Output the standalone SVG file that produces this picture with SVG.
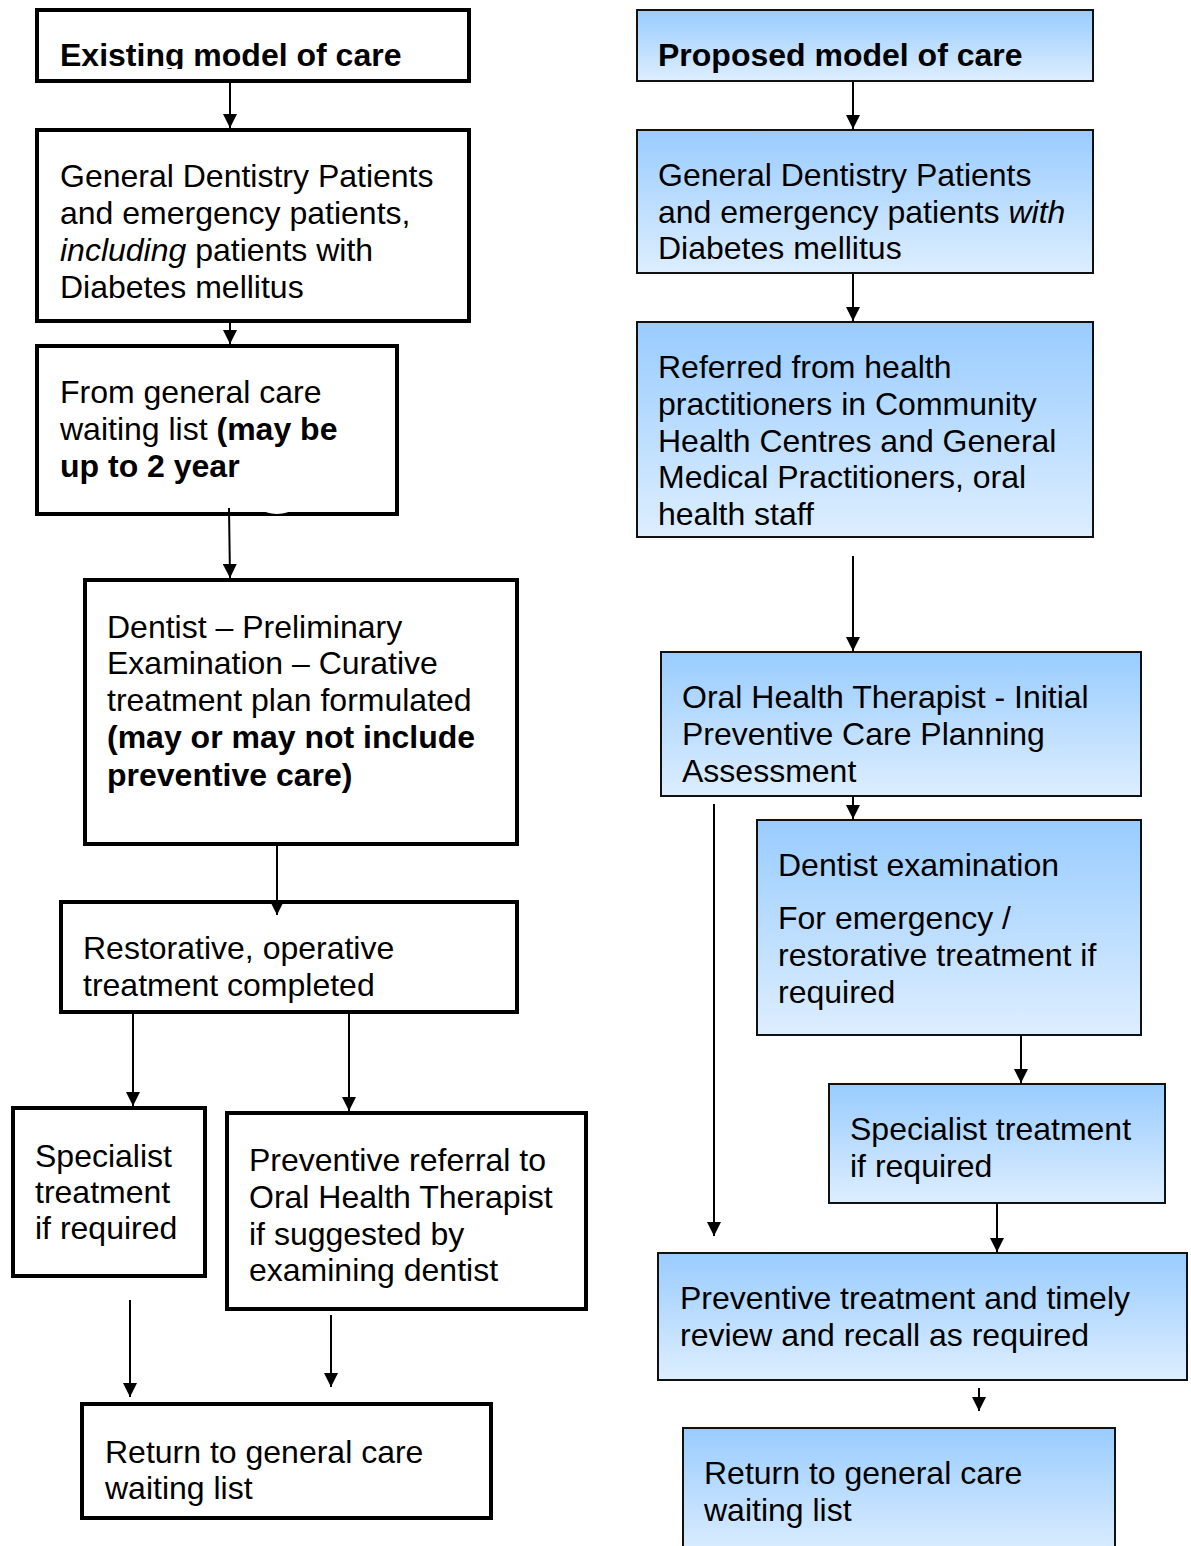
<svg xmlns="http://www.w3.org/2000/svg" width="1191" height="1546" viewBox="0 0 1191 1546">
<style>
text{font-family:"Liberation Sans",Arial,sans-serif;font-size:32px;fill:#000}
.b{font-weight:bold}
.i{font-style:italic}
.ex{fill:#fff;stroke:#000;stroke-width:4}
.pr{fill:url(#blue);stroke:#111;stroke-width:2}
.c{stroke:#000;stroke-width:2;fill:none;marker-end:url(#ah)}
</style>
<defs>
<linearGradient id="blue" x1="0" y1="0" x2="0" y2="1">
<stop offset="0" stop-color="#99CCFF"/>
<stop offset="1" stop-color="#DDEEFF"/>
</linearGradient>
<marker id="ah" markerUnits="userSpaceOnUse" markerWidth="14" markerHeight="14" refX="14" refY="7" orient="auto" viewBox="0 0 14 14">
<path d="M0,0 L14,7 L0,14 z" fill="#000"/>
</marker>
<clipPath id="clipA"><rect x="37" y="10" width="432" height="59"/></clipPath>
</defs>

<g id="existing-title">
<rect class="ex" x="37" y="10" width="432" height="71"/>
<text class="b" x="60" y="66" clip-path="url(#clipA)">Existing model of care</text>
</g>
<g id="existing-patients">
<rect class="ex" x="37" y="130" width="432" height="191"/>
<text x="60" y="187">General Dentistry Patients</text>
<text x="60" y="224">and emergency patients,</text>
<text x="60" y="261"><tspan class="i">including</tspan> patients with</text>
<text x="60" y="298">Diabetes mellitus</text>
</g>
<g id="existing-waiting">
<rect class="ex" x="37" y="346" width="360" height="168"/>
<ellipse cx="277" cy="509" rx="14" ry="5" fill="#fff"/>
<text x="60" y="403">From general care</text>
<text x="60" y="440">waiting list <tspan class="b">(may be</tspan></text>
<text class="b" x="60" y="477">up to 2 year</text>
</g>
<g id="existing-dentist">
<rect class="ex" x="85" y="580" width="432" height="264"/>
<text x="107" y="638">Dentist – Preliminary</text>
<text x="107" y="674">Examination – Curative</text>
<text x="107" y="711">treatment plan formulated</text>
<text class="b" x="107" y="748">(may or may not include</text>
<text class="b" x="107" y="786">preventive care)</text>
</g>
<g id="existing-restorative">
<rect class="ex" x="61" y="902" width="456" height="110"/>
<text x="83" y="959">Restorative, operative</text>
<text x="83" y="996">treatment completed</text>
</g>
<g id="existing-specialist">
<rect class="ex" x="13" y="1108" width="192" height="168"/>
<text x="35" y="1167">Specialist</text>
<text x="35" y="1203">treatment</text>
<text x="35" y="1239">if required</text>
</g>
<g id="existing-preventive">
<rect class="ex" x="227" y="1113" width="359" height="196"/>
<text x="249" y="1171">Preventive referral to</text>
<text x="249" y="1208">Oral Health Therapist</text>
<text x="249" y="1245">if suggested by</text>
<text x="249" y="1281">examining dentist</text>
</g>
<g id="existing-return">
<rect class="ex" x="82" y="1404" width="409" height="114"/>
<text x="105" y="1463">Return to general care</text>
<text x="105" y="1499">waiting list</text>
</g>

<g id="proposed-title">
<rect class="pr" x="637" y="10" width="456" height="71"/>
<text class="b" x="658" y="66">Proposed model of care</text>
</g>
<g id="proposed-patients">
<rect class="pr" x="637" y="130" width="456" height="143"/>
<text x="658" y="186">General Dentistry Patients</text>
<text x="658" y="223">and emergency patients <tspan class="i">with</tspan></text>
<text x="658" y="259">Diabetes mellitus</text>
</g>
<g id="proposed-referred">
<rect class="pr" x="637" y="322" width="456" height="215"/>
<text x="658" y="378">Referred from health</text>
<text x="658" y="415">practitioners in Community</text>
<text x="658" y="452">Health Centres and General</text>
<text x="658" y="488">Medical Practitioners, oral</text>
<text x="658" y="525">health staff</text>
</g>
<g id="proposed-oht">
<rect class="pr" x="661" y="652" width="480" height="144"/>
<text x="682" y="708">Oral Health Therapist - Initial</text>
<text x="682" y="745">Preventive Care Planning</text>
<text x="682" y="782">Assessment</text>
</g>
<g id="proposed-dentist">
<rect class="pr" x="757" y="820" width="384" height="215"/>
<text x="778" y="876">Dentist examination</text>
<text x="778" y="929">For emergency /</text>
<text x="778" y="966">restorative treatment if</text>
<text x="778" y="1003">required</text>
</g>
<g id="proposed-specialist">
<rect class="pr" x="829" y="1084" width="336" height="119"/>
<text x="850" y="1140">Specialist treatment</text>
<text x="850" y="1177">if required</text>
</g>
<g id="proposed-preventive">
<rect class="pr" x="658" y="1253" width="529" height="127"/>
<text x="680" y="1309">Preventive treatment and timely</text>
<text x="680" y="1346">review and recall as required</text>
</g>
<g id="proposed-return">
<rect class="pr" x="683" y="1428" width="432" height="130"/>
<text x="704" y="1484">Return to general care</text>
<text x="704" y="1521">waiting list</text>
</g>

<g id="connectors">
<line class="c" x1="230" y1="83" x2="230" y2="128"/>
<line class="c" x1="230" y1="323" x2="230" y2="344"/>
<line class="c" x1="229" y1="508" x2="230" y2="578"/>
<line class="c" x1="277" y1="846" x2="277" y2="915"/>
<line class="c" x1="133" y1="1014" x2="133" y2="1106"/>
<line class="c" x1="349" y1="1014" x2="349" y2="1111"/>
<line class="c" x1="130" y1="1300" x2="130" y2="1397"/>
<line class="c" x1="331" y1="1315" x2="331" y2="1387"/>
<line class="c" x1="853" y1="82" x2="853" y2="129"/>
<line class="c" x1="853" y1="274" x2="853" y2="321"/>
<line class="c" x1="853" y1="556" x2="853" y2="651"/>
<line class="c" x1="853" y1="797" x2="853" y2="819"/>
<line class="c" x1="714" y1="804" x2="714" y2="1236"/>
<line class="c" x1="1021" y1="1036" x2="1021" y2="1083"/>
<line class="c" x1="997" y1="1204" x2="997" y2="1252"/>
<line class="c" x1="979" y1="1388" x2="979" y2="1411"/>
</g>
</svg>
